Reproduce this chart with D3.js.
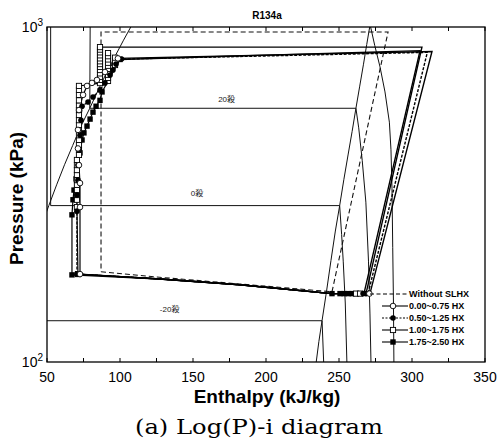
<!DOCTYPE html>
<html><head><meta charset="utf-8">
<script src="https://cdn.jsdelivr.net/npm/d3@7/dist/d3.min.js"></script>
<style>body{margin:0;background:#fff}svg{display:block}</style>
</head><body><svg id="c" width="497" height="442"></svg>
<script>
// ---------------- data ----------------
const chartTitle = "R134a";
const xTicks = [50, 100, 150, 200, 250, 300, 350];
const xMinorTicks = [75, 125, 175, 225, 275, 325];
const yTicks = [100, 1000];
const yTickExp = ["2", "3"];
const seriesNames = ["Without SLHX", "0.00~0.75 HX", "0.50~1.25 HX", "1.00~1.75 HX", "1.75~2.50 HX"];

// saturation dome (h kJ/kg, P kPa)
const satLiquid = [[49.6,280],[51.25,293],[56.6,338],[62.0,388],[67.6,443],[73.2,505],[79.3,572],[84.9,646],[90.6,727],[96.5,816],[102.4,913],[108.3,1017]];
const satVapor = [[234.4,100],[236.2,115],[238.4,133],[241.5,163],[244.5,201],[247.5,246],[250.45,293],[253.3,350],[256.2,415],[259.0,488],[261.6,572],[264.2,666],[266.7,771],[269.0,887],[271.3,1017]];
// isotherms
const isoLabels = ["20殺", "0殺", "-20殺"];
const isoLabelH = [173, 152.7, 134];
const iso20 = [[79.6,1100],[79.3,572],[261.6,572],[263.5,500],[265.9,400],[268.4,300],[270.2,200],[271.2,140],[271.9,100]];
const iso0 = [[52.5,1100],[52.5,293],[250.45,293],[251.8,240],[252.9,200],[254.3,150],[255.4,100]];
const isoM20 = [[40,132.8],[238.4,132.8],[239.5,100]];
const iso40 = [[271.3,1017],[274.5,880],[278.1,760],[281.5,640],[284.5,520],[285.6,430],[286.3,330],[286.8,220],[287.3,150],[287.6,100]];

// cycles
const evapPath = [[127,177],[182,170],[245,160]];
const withoutSLHX = [[87,186],[127,179],[182,171],[245.2,162],[283.6,966],[87,966],[87,186]];

const liquid1 = [[72.6,183],[72.6,290],[72.6,342],[71.9,387],[71.2,434],[71.2,493],[71.9,565],[74.7,627],[77.4,667],[80.8,681],[84.2,695],[89.7,734],[98.6,806]];
const suction1 = [[270.8,160]];
const compressor1 = [[271.2,160],[313.7,845]];

const liquid2 = [[70.5,183],[70.5,282],[70.5,315],[71.2,349],[71.2,387],[71.9,430],[72.6,475],[73.3,527],[74.0,580],[78.1,597],[81.5,618],[86.3,649],[89.7,681],[93.2,719],[95.2,744],[97.3,775],[101,802]];
const suction2 = [[266.5,160],[268.5,160]];
const compressor2 = [[269.9,160],[310.5,840]];

const liquid3 = [[71.2,183],[70.5,290],[70.5,305],[70.5,315],[70.5,326],[70.5,338],[70.5,349],[70.5,362],[70.5,374],[70.5,387],[70.5,401],[71.9,415],[71.9,430],[71.9,444],[71.9,460],[71.9,475],[71.9,493],[71.9,510],[71.9,527],[71.9,546],[71.9,565],[71.9,583],[71.9,604],[71.9,627],[71.9,649],[71.9,667],[86.3,680],[86.3,695],[86.3,710],[86.3,727],[86.3,744],[86.3,760],[86.3,775],[86.3,790],[86.3,806],[86.3,823],[86.3,840],[86.3,856],[86.3,871]];
const extra3 = [[91.8,690],[91.8,705],[91.8,720],[91.8,735],[91.8,750],[91.8,766],[91.8,782],[91.8,800],[91.8,818],[91.8,836],[96.6,770],[96.6,790],[96.6,810]];
const suction3 = [[261.7,160],[264.4,160]];
const compressor3 = [[268.5,160],[306.8,871]];

const liquid4 = [[67.1,182],[67.1,275],[67.8,305],[68.5,326],[69.9,352],[71.2,387],[72.6,421],[74.0,460],[75.3,483],[77.4,506],[79.5,531],[81.5,557],[83.6,580],[86.3,604],[87.7,640],[100,800]];
const suction4 = [[245.2,160],[250.7,160],[253.5,160],[256.3,160],[259.0,160]];
const compressor4 = [[267.1,160],[305.5,850]];

// ---------------- chart ----------------
const svg = d3.select("#c");
const W = 497, H = 442;
const m = {l: 47, r: 485, t: 27, b: 362};
const x = d3.scaleLinear().domain([50, 350]).range([m.l, m.r]);
const y = d3.scaleLog().domain([100, 1000]).range([m.b, m.t]);
const FONT = "'Liberation Sans', Arial, Helvetica, sans-serif";

svg.append("rect").attr("width", W).attr("height", H).attr("fill", "#fff");
svg.append("defs").append("clipPath").attr("id", "clip")
  .append("rect").attr("x", m.l).attr("y", m.t).attr("width", m.r - m.l).attr("height", m.b - m.t);

const plot = svg.append("g").attr("clip-path", "url(#clip)");
const line = d3.line().x(d => x(d[0])).y(d => y(d[1]));

// isotherms + dome
[satLiquid, satVapor, iso20, iso0, isoM20, iso40].forEach(p => {
  plot.append("path").attr("d", line(p)).attr("fill", "none").attr("stroke", "#111").attr("stroke-width", 1);
});
const isoP = [572, 293, 132.8];
const isoDy = [-6, -10, -9];
isoLabels.forEach((t, i) => {
  svg.append("text").attr("x", x(isoLabelH[i])).attr("y", y(isoP[i]) + isoDy[i])
    .attr("text-anchor", "middle").attr("font-family", FONT + ",'Noto Sans CJK KR'")
    .attr("font-size", 8).attr("fill", "#222").text(t);
});

// dashed cycle
plot.append("path").attr("d", line(withoutSLHX)).attr("fill", "none").attr("stroke", "#111")
  .attr("stroke-width", 1.1).attr("stroke-dasharray", "5,3");

// SLHX cycles
const series = [
  {liq: liquid1, suc: suction1, comp: compressor1, extra: [], type: "oc", dash: null},
  {liq: liquid2, suc: suction2, comp: compressor2, extra: [], type: "fc", dash: "3,1.5"},
  {liq: liquid3, suc: suction3, comp: compressor3, extra: extra3, type: "os", dash: null},
  {liq: liquid4, suc: suction4, comp: compressor4, extra: [], type: "fs", dash: null}
];
series.forEach(s => {
  const start = s.liq[0];
  const top = s.liq[s.liq.length - 1];
  const cyc = [start].concat(evapPath, s.comp, [top]);
  plot.append("path").attr("d", line(cyc)).attr("fill", "none").attr("stroke", "#000")
    .attr("stroke-width", 1.4).attr("stroke-dasharray", s.dash);
  plot.append("path").attr("d", line(s.liq)).attr("fill", "none").attr("stroke", "#000")
    .attr("stroke-width", 1.2).attr("stroke-dasharray", s.dash);
});
// thicker evaporator overlap
plot.append("path").attr("d", line([[70,183]].concat(evapPath, [[271,160]]))).attr("fill", "none")
  .attr("stroke", "#000").attr("stroke-width", 1.2);

function marker(g, type, cx, cy) {
  if (type === "oc") g.append("circle").attr("cx", cx).attr("cy", cy).attr("r", 2.8).attr("fill", "#fff").attr("stroke", "#000").attr("stroke-width", 0.9);
  else if (type === "fc") g.append("circle").attr("cx", cx).attr("cy", cy).attr("r", 2.8).attr("fill", "#000");
  else if (type === "os") g.append("rect").attr("x", cx - 2.6).attr("y", cy - 2.6).attr("width", 5.2).attr("height", 5.2).attr("fill", "#fff").attr("stroke", "#000").attr("stroke-width", 0.9);
  else g.append("rect").attr("x", cx - 2.7).attr("y", cy - 2.7).attr("width", 5.4).attr("height", 5.4).attr("fill", "#000");
}
const mg = plot.append("g");
[3, 2, 1, 0].forEach(i => {
  const s = series[i];
  s.liq.concat(s.extra, s.suc).forEach(d => marker(mg, s.type, x(d[0]), y(d[1])));
});

// frame
svg.append("rect").attr("x", m.l).attr("y", m.t).attr("width", m.r - m.l).attr("height", m.b - m.t)
  .attr("fill", "none").attr("stroke", "#000").attr("stroke-width", 1.3);
// ticks
xTicks.concat(xMinorTicks).forEach(v => {
  svg.append("line").attr("x1", x(v)).attr("x2", x(v)).attr("y1", m.b).attr("y2", m.b - 4).attr("stroke", "#000");
  svg.append("line").attr("x1", x(v)).attr("x2", x(v)).attr("y1", m.t).attr("y2", m.t + 4).attr("stroke", "#000");
});
xTicks.forEach(v => {
  svg.append("text").attr("x", x(v)).attr("y", 382).attr("text-anchor", "middle")
    .attr("font-family", FONT).attr("font-size", 14).attr("fill", "#000").text(v);
});
yTicks.forEach((v, i) => {
  const t = svg.append("text").attr("x", 43).attr("y", y(v) + 5).attr("text-anchor", "end")
    .attr("font-family", FONT).attr("font-size", 14).attr("fill", "#000");
  t.append("tspan").text("10");
  t.append("tspan").attr("dy", -6).attr("font-size", 10).text(yTickExp[i]);
});

// titles
svg.append("text").attr("x", 267).attr("y", 18.5).attr("text-anchor", "middle").attr("font-family", FONT)
  .attr("font-weight", "bold").attr("font-size", 10).text(chartTitle);
svg.append("text").attr("x", 267).attr("y", 403).attr("text-anchor", "middle").attr("font-family", FONT)
  .attr("font-weight", "bold").attr("font-size", 19).text("Enthalpy (kJ/kg)");
svg.append("text").attr("transform", "translate(23,198.5) rotate(-90)").attr("text-anchor", "middle")
  .attr("font-family", FONT).attr("font-weight", "bold").attr("font-size", 19).text("Pressure (kPa)");
svg.append("text").attr("x", 135).attr("y", 434).attr("font-family", "'DejaVu Serif', 'Liberation Serif', serif")
  .attr("font-size", 20).attr("textLength", 248).attr("lengthAdjust", "spacingAndGlyphs").text("(a) Log(P)-i diagram");

// legend
const legY = [294, 306, 318, 330, 342];
const legTypes = [null, "oc", "fc", "os", "fs"];
const legDash = ["4,2.5", null, "2,1.5", null, null];
const lg = svg.append("g");
seriesNames.forEach((n, i) => {
  const x0 = i === 0 ? 370 : 382;
  lg.append("line").attr("x1", x0).attr("x2", 408).attr("y1", legY[i]).attr("y2", legY[i])
    .attr("stroke", "#000").attr("stroke-width", 1.1).attr("stroke-dasharray", legDash[i]);
  if (legTypes[i]) marker(lg, legTypes[i], 393, legY[i]);
  lg.append("text").attr("x", 409).attr("y", legY[i] + 3.2).attr("font-family", FONT)
    .attr("font-weight", "bold").attr("font-size", 9).text(n);
});
</script></body></html>
